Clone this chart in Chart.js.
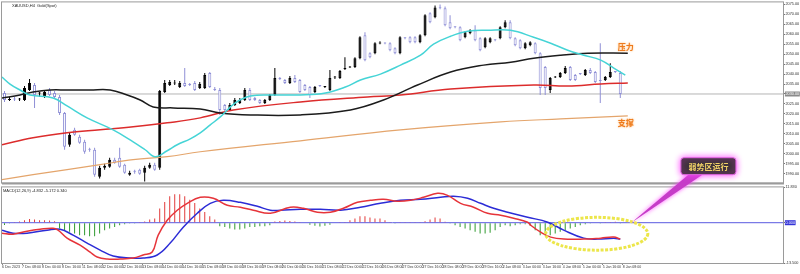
<!DOCTYPE html>
<html>
<head>
<meta charset="utf-8">
<script src="https://cdn.jsdelivr.net/npm/chart.js@4.4.1/dist/chart.umd.min.js"></script>
<style>
  html, body { margin: 0; padding: 0; background: #fff; }
  #wrap { position: relative; width: 800px; height: 274px; overflow: hidden; }
  #priceChart { position: absolute; left: 0; top: 0; }
  #macdChart { position: absolute; left: 0; top: 185px; }
  #overlay { position: absolute; left: 0; top: 0; pointer-events: none; }
</style>
</head>
<body>
<div id="wrap">
  <canvas id="priceChart" width="800" height="185"></canvas>
  <canvas id="macdChart" width="800" height="89"></canvas>
  <canvas id="overlay" width="800" height="274"></canvas>
</div>
<script>
// XAUUSD H4 bars, left to right
const opens = [2030.5, 2027, 2027.5, 2027.2, 2027, 2032, 2034.5, 2030.3, 2028.5, 2032,
  2030.5, 2028.5, 2020.5, 2004.5, 2012, 2008.5, 2006, 2002.2, 2002, 1988.5,
  1993, 1993.5, 1997, 1998, 1994.5, 1989.5, 1991.3, 1992, 1990.5, 1993,
  1994.5, 1993, 2031, 2034.5, 2035.3, 2033.5, 2035.5, 2034.7, 2035.5, 2033,
  2033, 2040.5, 2032.3, 2032, 2024.5, 2022, 2024.5, 2025.5, 2027, 2032,
  2028, 2027, 2025.5, 2027, 2029.5, 2037.7, 2037, 2035.5, 2038, 2037,
  2034.5, 2033.5, 2031, 2034.2, 2033.5, 2032, 2038.3, 2038, 2042.5, 2043.3,
  2043.5, 2048, 2059.5, 2050.5, 2050.5, 2055.3, 2055.5, 2055.5, 2053, 2050.5,
  2058.2, 2058.5, 2058.5, 2056, 2059.5, 2070.5, 2068.5, 2073.5, 2073, 2066,
  2063.7, 2063.5, 2058.5, 2060.5, 2062, 2058, 2053.5, 2056, 2057.2, 2058,
  2063.5, 2066, 2058, 2057, 2053, 2054.5, 2055.5, 2050.5, 2043.5, 2032,
  2038.3, 2038.5, 2040.5, 2043.5, 2039.5, 2040.2, 2039.5, 2042, 2041, 2037,
  2037, 2038.5, 2041.3, 2040.5];
const highs = [2031.5, 2028.5, 2028.5, 2028, 2034, 2037.5, 2035.5, 2031, 2032, 2033,
  2031.5, 2029.5, 2021, 2010.5, 2013, 2009.5, 2007, 2003, 2003, 1994,
  1995, 1998, 1998, 2003, 1995, 1991.5, 1992, 1992.5, 1994, 1995.5,
  1995.5, 2032, 2037, 2037, 2037, 2036.5, 2043, 2035.5, 2036.5, 2036,
  2040.5, 2041, 2033.5, 2033, 2025, 2025.5, 2028, 2028, 2033, 2033,
  2028.5, 2027.5, 2027.5, 2030, 2043, 2038.5, 2037.5, 2039, 2039.5, 2037.5,
  2035, 2034, 2034, 2034.5, 2034, 2042, 2039, 2042, 2048.5, 2044,
  2048.5, 2059, 2061, 2051, 2056, 2056.5, 2056, 2056, 2053.5, 2059,
  2058.5, 2059, 2059, 2060, 2070, 2071, 2074.5, 2075, 2074, 2069.5,
  2064, 2064, 2061.5, 2062.5, 2064.5, 2058.5, 2058.5, 2058.5, 2057.5, 2064,
  2067, 2067, 2058.5, 2057.5, 2056, 2056.5, 2056, 2051, 2044, 2038.5,
  2039, 2041, 2044, 2044, 2040, 2040.5, 2042.5, 2043, 2041.5, 2055.5,
  2039, 2045.5, 2041.5, 2041.5];
const lows = [2026, 2026.5, 2026.5, 2026.5, 2026.5, 2031.5, 2023, 2028.5, 2028, 2029,
  2028, 2019.5, 2002, 2003.5, 2009, 2005, 2000, 2001, 1988.5, 1987.5,
  1992, 1993, 1995, 1993, 1990, 1989, 1990, 1989.5, 1986, 1992.5,
  1991.5, 1992, 2030.5, 2034, 2034.5, 2033, 2033.5, 2034, 2031.5, 2032.5,
  2032.5, 2033, 2031.5, 2019.5, 2021.5, 2021.5, 2024, 2025, 2026.5, 2026.5,
  2026.5, 2025, 2025, 2026.5, 2029, 2037, 2035, 2035, 2035.5, 2030.5,
  2031.5, 2028, 2030.5, 2033.5, 2033, 2031.5, 2037.5, 2037.5, 2042, 2043,
  2043, 2047.5, 2046.5, 2048, 2050, 2055, 2055, 2051.5, 2050, 2050,
  2057.5, 2055.5, 2055.5, 2055.5, 2059, 2065.5, 2068, 2072.5, 2064, 2062.5,
  2063, 2056.5, 2058, 2060, 2056.5, 2051.5, 2053, 2055.5, 2056.5, 2057.5,
  2063, 2057.5, 2054, 2052.5, 2052.5, 2054, 2050, 2029.5, 2029.5, 2030.5,
  2038, 2038, 2040, 2036.5, 2036.5, 2039.5, 2039, 2040, 2035.5, 2025.5,
  2036.5, 2038, 2040.5, 2028];
const closes = [2027, 2027.5, 2027.2, 2027.6, 2033, 2035.5, 2029.5, 2030.5, 2031, 2029.5,
  2028.5, 2020.5, 2003.5, 2009.5, 2009.5, 2005.5, 2001, 2002, 1989.5, 1993,
  1994, 1997, 1995.5, 1993.5, 1990.5, 1990.5, 1991, 1990, 1993, 1994.5,
  1992, 2031.5, 2035.5, 2036, 2035.5, 2035.5, 2034, 2034.5, 2032, 2035,
  2039.5, 2033.5, 2032, 2022, 2022, 2024.5, 2027, 2027, 2032, 2027,
  2027, 2025.5, 2027, 2029.5, 2038, 2037.5, 2035.5, 2038, 2036, 2031,
  2032, 2029.5, 2033.5, 2034, 2033.8, 2038, 2038.5, 2041.5, 2043, 2043.5,
  2048, 2058.5, 2047, 2048.5, 2055.5, 2055.5, 2055.3, 2052, 2050.5, 2058.5,
  2058, 2056, 2056, 2059.5, 2069.5, 2066, 2073.5, 2073, 2064.5, 2063,
  2063.5, 2057, 2061, 2062, 2057, 2052, 2058, 2058, 2057, 2063.5,
  2066, 2058, 2054.5, 2053, 2055.5, 2056, 2050.5, 2033, 2033, 2038,
  2038.5, 2040.5, 2043, 2037, 2037, 2040, 2042, 2040.5, 2036, 2036.5,
  2038.5, 2041, 2041, 2030];
const lastClose = 2030;

// moving averages: [bar index, price]
const maCyan = [[-0.5, 2038.5], [1.1, 2035], [3.1, 2032], [5.1, 2029.5], [9.7, 2028], [12.5, 2024],
  [16.5, 2018], [21.7, 2012], [25.7, 2006], [28.1, 2002], [30.1, 1998.5], [32.5, 2001.5],
  [34.5, 2004.5], [37.1, 2007.5], [39.1, 2010.5], [41.1, 2014.5], [43.1, 2018.5], [46.1, 2025.5],
  [49.1, 2029], [54.1, 2029.5], [59.1, 2029.5], [64.1, 2030.5], [68.1, 2033.5], [71.1, 2037],
  [75.1, 2040], [79.1, 2044.5], [83.1, 2049.5], [85.7, 2055], [89.1, 2059], [92.5, 2061.5],
  [96.5, 2062], [101.1, 2062], [105.7, 2058.5], [109.1, 2055.5], [112.5, 2052], [115.7, 2049.5],
  [119.1, 2047], [121.7, 2043], [124, 2039.5]];
const maBlack = [[-0.5, 2028], [3.1, 2029.5], [5.7, 2031], [9.1, 2032], [12.5, 2032], [17.1, 2032],
  [21.1, 2032], [24.5, 2029.5], [27.1, 2027], [29.7, 2023.5], [33.7, 2023], [39.1, 2022.5],
  [43.1, 2020.5], [49.1, 2019.5], [59.1, 2019.5], [69.1, 2022], [75.7, 2027], [82.5, 2034.5],
  [89.1, 2041], [95.7, 2044.5], [101.1, 2046], [105.7, 2048], [111.1, 2049.5], [116.5, 2050.5],
  [124.5, 2050.5]];
const maRed = [[-0.5, 2004.5], [5.7, 2008], [12.5, 2010.5], [19.1, 2012], [25.7, 2013.5], [32.5, 2015.5],
  [39.1, 2018], [45.7, 2022], [59.1, 2026], [72.5, 2028.5], [79.1, 2029.5], [89.1, 2032.5],
  [105.7, 2034.5], [112.5, 2034], [119.1, 2035], [124.5, 2035.5]];
const maOrange = [[-0.5, 1987], [5.7, 1989.5], [12.5, 1992], [19.1, 1994.5], [25.7, 1997], [32.5, 1998.5],
  [39.1, 2001], [59.1, 2006.5], [79.1, 2012], [99.1, 2016], [111.1, 2017.5], [124.5, 2019]];

// MACD panel
const macdHist = [-0.8, -0.3, 0.2, 0.4, 0.83, 1.27, 1.07, 0.83, 0.83, 0.73,
  0.5, -1.93, -2.5, -3.07, -3.6, -4.17, -4.17, -4.5, -4.5, -3.6,
  -2.5, -1.93, -1.4, -0.83, -0.5, -0.3, -0.1, 0.1, 0.43, 1.07,
  1.4, 4.73, 6.93, 8.83, 9.5, 9.5, 8.83, 7.73, 6.6, 4.73,
  3.6, 2.17, 1.07, -1.17, -1.4, -1.93, -2.27, -2.27, -1.93, -1.4,
  -1.4, -1.17, -1.17, -0.83, 0.4, 0.6, 0.7, 0.6, 0.4, 0.1,
  -0.2, -0.7, -1.0, -1.3, -1.0, -0.7, -0.2, 0.1, 0.27, 0.83,
  1.4, 2.17, 2.17, 1.73, 1.4, 1.4, 0.83, 0.27, -0.1, 0.1,
  0.2, 0.1, 0.1, 0.2, 0.5, 1.07, 1.73, 1.4, 0.3, -0.3,
  -0.83, -1.4, -1.93, -2.5, -3.07, -3.6, -3.6, -3.4, -2.5, -1.4,
  -0.83, -1.17, -0.83, -0.5, -0.5, -1.0, -2.5, -4.17, -4.17, -4.17,
  -3.6, -3.07, -2.5, -1.93, -1.4, -0.83, -0.5, -0.3, -0.2, -0.1,
  0.1, 0.2, 0.3, -0.1];
const macdMain = [[-0.5, -3.5], [1.7, -3.83], [4.5, -2.83], [7.1, -2.17], [9.7, -1.83], [10.7, -2.5],
  [12.5, -5.17], [15.1, -7.5], [17.1, -9.83], [18.5, -11.5], [20.5, -12.17], [23.1, -12.17],
  [25.7, -11.83], [27.7, -10.83], [29.5, -9.83], [30.7, -4.17], [32.5, 0.83], [34.5, 4.17],
  [36.5, 6.5], [39.1, 8.5], [41.7, 8.17], [44.5, 5.83], [47.1, 5.17], [49.7, 4.17], [53.1, 3.17],
  [57.1, 5.17], [59.7, 4.83], [62.5, 3.5], [65.1, 3.5], [67.7, 4.83], [70.5, 6.83], [73.1, 7.5],
  [75.7, 7.83], [78.5, 7.17], [81.1, 7.5], [83.7, 8.5], [86.5, 9.83], [88.5, 9.17], [91.1, 6.5],
  [93.7, 5.17], [96.5, 3.17], [99.1, 2.5], [101.7, 1.5], [104.5, 0.17], [105.1, -0.83],
  [107.1, -3.17], [109.1, -4.83], [111.7, -5.5], [115.7, -5.5], [119.1, -5.17], [121.7, -4.83],
  [123, -5.5]];
const macdSignal = [[-0.5, -2.5], [1.7, -3.5], [4.5, -3.5], [8.5, -2.5], [11.1, -2.17], [13.7, -4.17],
  [16.5, -6.83], [19.1, -9.17], [21.7, -11.17], [25.1, -11.83], [27.7, -11.83], [30.5, -10.83],
  [33.1, -6.83], [35.7, -1.5], [38.5, 3.17], [41.1, 6.5], [43.7, 7.5], [47.1, 6.83], [50.5, 5.5],
  [53.1, 4.17], [55.1, 4.17], [59.1, 4.5], [63.1, 4.5], [67.1, 4.17], [71.1, 5.17], [75.1, 6.5],
  [79.1, 7.5], [83.1, 7.83], [87.1, 8.5], [89.7, 8.83], [92.5, 8.17], [95.1, 6.5], [97.7, 4.83],
  [100.5, 3.5], [104.5, 1.83], [108.5, 0.17], [111.7, -2.5], [115.7, -5.17], [118.5, -5.5],
  [121.7, -5.17], [123, -5.5]];

// axis ticks
const priceTicks = [2075, 2070, 2065, 2060, 2055, 2050, 2045, 2040, 2035, 2030,
  2025, 2020, 2015, 2010, 2005, 2000, 1995, 1990];
const macdTicks = [11.83, 0, -13.5];
const timeTickIdx = [0, 4, 8, 12, 16, 20, 24, 28, 32, 36, 40, 44, 48, 52, 56, 60,
  64, 68, 72, 76, 80, 84, 88, 92, 96, 100, 104, 108, 112, 116, 120, 124];
const timeLabels = ['6 Dec 2023', '7 Dec 08:00', '8 Dec 00:00', '8 Dec 16:00', '11 Dec 08:00',
  '12 Dec 00:00', '12 Dec 16:00', '13 Dec 08:00', '14 Dec 00:00', '14 Dec 16:00', '15 Dec 08:00',
  '18 Dec 00:00', '18 Dec 16:00', '19 Dec 08:00', '20 Dec 00:00', '20 Dec 16:00', '21 Dec 08:00',
  '22 Dec 00:00', '22 Dec 16:00', '26 Dec 08:00', '27 Dec 00:00', '27 Dec 16:00', '28 Dec 08:00',
  '29 Dec 00:00', '29 Dec 16:00', '2 Jan 08:00', '3 Jan 00:00', '3 Jan 16:00', '4 Jan 08:00',
  '5 Jan 00:00', '5 Jan 16:00', '8 Jan 08:00'];

const X_MIN = -0.5, X_MAX = 155.5;
const BULL = '#000000', BEAR_EDGE = '#8f8fd6';
const smallFont = { family: 'Liberation Sans', size: 3.8, lineHeight: 1 };

const xy = pts => pts.map(([x, y]) => ({ x, y }));
const isBull = i => closes[i] >= opens[i];

// grey frame round the plot area + caption in the corner
const framePlugin = {
  id: 'frame',
  beforeDatasetsDraw(chart, args, opts) {
    const a = chart.chartArea, c = chart.ctx;
    c.save();
    c.strokeStyle = '#9a9a9a';
    c.lineWidth = 1;
    c.strokeRect(a.left - 0.5, a.top - 0.5, a.right - a.left + 1, a.bottom - a.top + 1);
    if (opts.thickBottom) {
      c.lineWidth = 2;
      c.beginPath(); c.moveTo(a.left, a.bottom + 1); c.lineTo(a.right + 1, a.bottom + 1); c.stroke();
    }
    c.fillStyle = '#222';
    c.font = '4px "Liberation Sans"';
    c.textBaseline = 'top';
    c.fillText(opts.caption || '', a.left + opts.captionX, a.top + 1.5);
    c.restore();
  }
};

function rightAxis(min, max, ticks, fmt, hiValue, hiColor) {
  return {
    type: 'linear', position: 'right', min, max,
    afterFit: s => { s.width = 17; },
    afterBuildTicks: s => { s.ticks = ticks.map(v => ({ value: v })); },
    grid: { display: true, drawOnChartArea: false, tickLength: 2, color: '#777' },
    border: { display: true, color: '#9a9a9a' },
    ticks: {
      font: smallFont, padding: 0.5,
      color: ctx => ctx.tick && ctx.tick.value === hiValue ? '#fff' : '#333',
      showLabelBackdrop: true,
      backdropPadding: 0.6,
      backdropColor: ctx => ctx.tick && ctx.tick.value === hiValue ? hiColor : 'rgba(0,0,0,0)',
      callback: fmt
    }
  };
}

const priceChart = new Chart(document.getElementById('priceChart'), {
  type: 'bar',
  data: {
    datasets: [
      { type: 'line', data: xy(maCyan), borderColor: '#45d4d6', borderWidth: 1.5, pointRadius: 0, tension: 0.4, order: 0 },
      { type: 'line', data: xy(maBlack), borderColor: '#1c1c1c', borderWidth: 1.5, pointRadius: 0, tension: 0.4, order: 0 },
      { type: 'line', data: xy(maRed), borderColor: '#dc2c2c', borderWidth: 1.5, pointRadius: 0, tension: 0.4, order: 0 },
      { type: 'line', data: xy(maOrange), borderColor: '#e4a56c', borderWidth: 1.2, pointRadius: 0, tension: 0.4, order: 0 },
      {
        data: opens.map((o, i) => ({ x: i, y: [o, closes[i]] })),
        backgroundColor: opens.map((o, i) => isBull(i) ? BULL : '#ffffff'),
        borderColor: opens.map((o, i) => isBull(i) ? BULL : BEAR_EDGE),
        borderWidth: 1, borderSkipped: false, barThickness: 3, minBarLength: 1,
        grouped: false, inflateAmount: 0, order: 2
      },
      {
        data: lows.map((l, i) => ({ x: i, y: [l, highs[i]] })),
        backgroundColor: opens.map((o, i) => isBull(i) ? BULL : BEAR_EDGE),
        barThickness: 1, grouped: false, inflateAmount: 0, order: 3
      },
      {
        type: 'line', data: [{ x: X_MIN, y: lastClose }, { x: X_MAX, y: lastClose }],
        borderColor: '#b4b4b4', borderWidth: 1, pointRadius: 0, order: 4
      }
    ]
  },
  options: {
    responsive: false, animation: false, devicePixelRatio: 1, events: [],
    layout: { padding: { top: 2, left: 2, right: 0, bottom: 2 } },
    plugins: {
      legend: { display: false }, tooltip: { enabled: false },
      frame: { caption: 'XAUUSD,H4  Gold(Spot)', captionX: 10, thickBottom: true }
    },
    scales: {
      x: { type: 'linear', min: X_MIN, max: X_MAX, offset: false, display: false, grid: { offset: false } },
      y: rightAxis(1985.5, 2076, priceTicks, v => Number(v).toFixed(2), lastClose, '#8a8a8a')
    }
  },
  plugins: [framePlugin]
});

const macdChart = new Chart(document.getElementById('macdChart'), {
  type: 'bar',
  data: {
    datasets: [
      { type: 'line', data: xy(macdMain), borderColor: '#e6343a', borderWidth: 1.5, pointRadius: 0, tension: 0.4, order: 0 },
      { type: 'line', data: xy(macdSignal), borderColor: '#2c2cd6', borderWidth: 1.5, pointRadius: 0, tension: 0.4, order: 0 },
      {
        data: macdHist.map((v, i) => ({ x: i, y: v })),
        backgroundColor: macdHist.map(v => v >= 0 ? '#e23b3b' : '#2f9a2f'),
        barThickness: 1, grouped: false, inflateAmount: 0, order: 1
      },
      {
        type: 'line', data: [{ x: X_MIN, y: 0 }, { x: X_MAX, y: 0 }],
        borderColor: '#5a5ae0', borderWidth: 1, pointRadius: 0, order: 2
      }
    ]
  },
  options: {
    responsive: false, animation: false, devicePixelRatio: 1, events: [],
    layout: { padding: { top: 2, left: 2, right: 0, bottom: 0 } },
    plugins: {
      legend: { display: false }, tooltip: { enabled: false },
      frame: { caption: 'MACD(12,26,9) -4.832 -5.172 0.340', captionX: 1 }
    },
    scales: {
      x: {
        type: 'linear', min: X_MIN, max: X_MAX, offset: false,
        afterFit: s => { s.height = 11; },
        afterBuildTicks: s => { s.ticks = timeTickIdx.map(v => ({ value: v - 0.5 })); },
        grid: { display: true, drawOnChartArea: false, offset: false, tickLength: 2, color: '#888' },
        border: { display: true, color: '#9a9a9a' },
        ticks: {
          autoSkip: false, maxRotation: 0, align: 'start', padding: 0.5,
          font: { family: 'Liberation Sans', size: 3.5, lineHeight: 1 }, color: '#333',
          callback: (v, idx) => timeLabels[idx]
        }
      },
      y: rightAxis(-13.5, 11.83, macdTicks, v => Number(v).toFixed(3), 0, '#3434d8')
    }
  },
  plugins: [framePlugin]
});

// hand-drawn notes on the screenshot, anchored to the chart scales
function drawNotes() {
  const c = document.getElementById('overlay').getContext('2d');
  const macdTop = 185;
  const P = (i, v) => ({ x: priceChart.scales.x.getPixelForValue(i), y: priceChart.scales.y.getPixelForValue(v) });
  const M = (i, v) => ({ x: macdChart.scales.x.getPixelForValue(i), y: macdTop + macdChart.scales.y.getPixelForValue(v) });

  // 压力 / 支撑 tags
  c.save();
  c.font = 'bold 8px "Noto Sans CJK SC"';
  c.textAlign = 'center';
  c.textBaseline = 'middle';
  c.shadowColor = 'rgba(255,170,80,0.9)';
  c.shadowBlur = 2;
  c.fillStyle = '#ee7a1c';
  let p = P(124.1, 2053.75);
  c.fillText('压力', p.x, p.y);
  p = P(124.1, 2015.25);
  c.fillText('支撑', p.x, p.y);
  c.restore();

  // yellow dashed ellipse round the MACD tail
  const ec = M(118.3, -3.7), ee = M(128.5, -9.2);
  c.save();
  c.strokeStyle = '#ece64a';
  c.lineWidth = 3;
  c.setLineDash([3, 1.5]);
  c.beginPath();
  c.ellipse(ec.x, ec.y, ee.x - ec.x, ee.y - ec.y, 0, 0, Math.PI * 2);
  c.stroke();
  c.restore();

  // magenta arrow
  const tip = M(125.2, 0), b1 = P(136.6, 1989.5), b2 = P(139.4, 1989.5);
  c.save();
  c.fillStyle = '#c63cc8';
  c.shadowColor = '#ff4cff';
  c.shadowBlur = 4;
  c.beginPath();
  c.moveTo(b1.x, b1.y); c.lineTo(b2.x, b2.y); c.lineTo(tip.x, tip.y);
  c.closePath();
  c.fill();
  c.restore();

  // callout box
  const tl = P(135.1, 1998), br = P(146.1, 1989.5);
  c.save();
  c.shadowColor = '#ff40ff';
  c.shadowBlur = 6;
  c.fillStyle = '#3c3238';
  c.strokeStyle = '#e266e2';
  c.lineWidth = 1;
  c.beginPath();
  c.roundRect(tl.x, tl.y, br.x - tl.x, br.y - tl.y, 3);
  c.fill();
  c.stroke();
  c.shadowBlur = 0;
  c.fillStyle = '#f0d068';
  c.font = 'bold 8px "Noto Sans CJK SC"';
  c.textAlign = 'center';
  c.textBaseline = 'middle';
  c.fillText('弱势区运行', (tl.x + br.x) / 2, (tl.y + br.y) / 2 + 0.5);
  c.restore();
}
drawNotes();
</script>
</body>
</html>
